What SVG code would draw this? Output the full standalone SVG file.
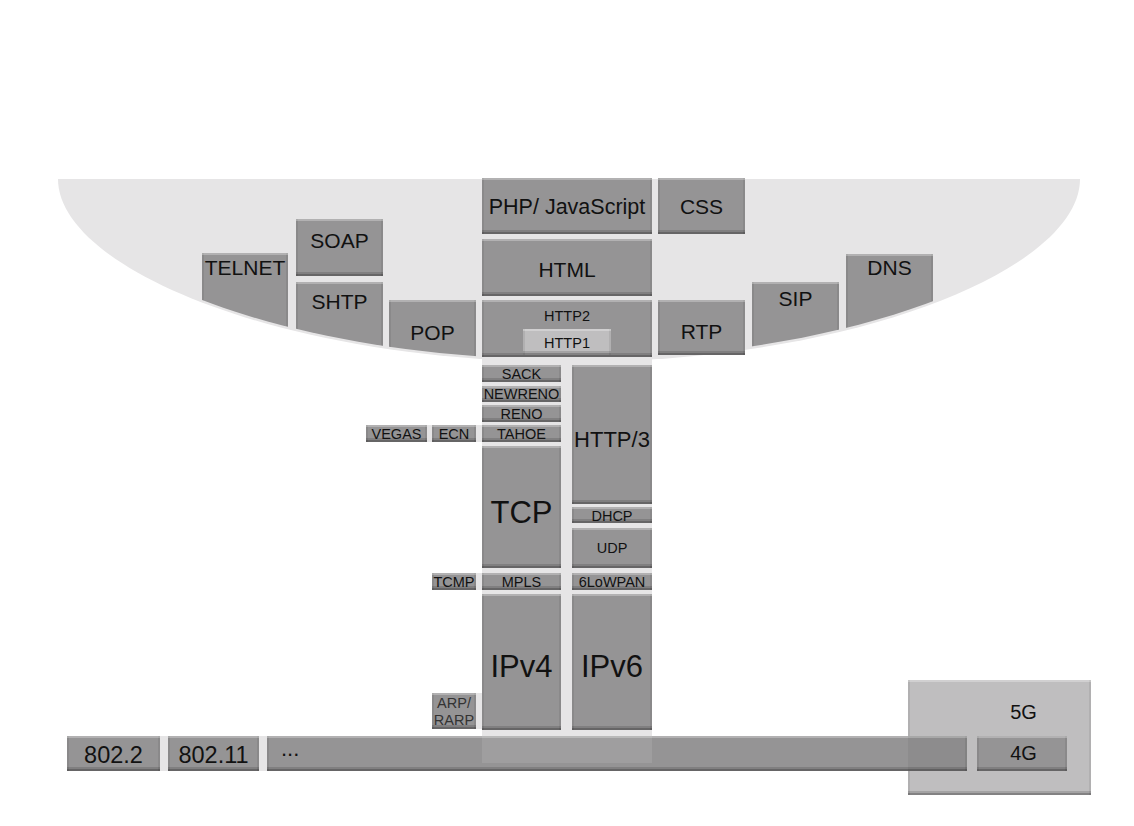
<svg xmlns="http://www.w3.org/2000/svg" width="1134" height="826" viewBox="0 0 1134 826">
<defs>
<style>
text{font-family:"Liberation Sans",Arial,Helvetica,sans-serif;fill:#111;text-anchor:middle}
.b{fill:#959495;filter:url(#bev)}
.lt{fill:#bfbebf;filter:url(#bev)}
.bg{fill:#e6e5e6}
.f21{font-size:21px}
.f14{font-size:14.5px}
.f22{font-size:22px}
.f31{font-size:31px}
.f24{font-size:23.5px}
.f20{font-size:20px}
</style>
<filter id="bev" x="0" y="0" width="1" height="1" color-interpolation-filters="sRGB">
<feOffset in="SourceAlpha" dy="-4" result="u4"/>
<feComposite in="SourceAlpha" in2="u4" operator="out" result="b4"/>
<feFlood flood-color="#000" flood-opacity="0.14"/>
<feComposite in2="b4" operator="in" result="b4c"/>
<feOffset in="SourceAlpha" dy="-2" result="u2"/>
<feComposite in="SourceAlpha" in2="u2" operator="out" result="b2"/>
<feFlood flood-color="#000" flood-opacity="0.2"/>
<feComposite in2="b2" operator="in" result="b2c"/>
<feOffset in="SourceAlpha" dy="2" result="d2"/>
<feComposite in="SourceAlpha" in2="d2" operator="out" result="t2"/>
<feFlood flood-color="#fff" flood-opacity="0.28"/>
<feComposite in2="t2" operator="in" result="t2c"/>
<feOffset in="SourceAlpha" dx="2" result="r2"/>
<feComposite in="SourceAlpha" in2="r2" operator="out" result="l2"/>
<feOffset in="SourceAlpha" dx="-2" result="l2s"/>
<feComposite in="SourceAlpha" in2="l2s" operator="out" result="rr2"/>
<feMerge result="sides"><feMergeNode in="l2"/><feMergeNode in="rr2"/></feMerge>
<feFlood flood-color="#000" flood-opacity="0.07"/>
<feComposite in2="sides" operator="in" result="sc"/>
<feMerge><feMergeNode in="SourceGraphic"/><feMergeNode in="sc"/><feMergeNode in="t2c"/><feMergeNode in="b4c"/><feMergeNode in="b2c"/></feMerge>
</filter>
<clipPath id="bowlClip"><path transform="translate(0,-2.5)" d="M58,179 H1080 C1080,269 854,362 569,362 C284,362 58,269 58,179 Z"/></clipPath>
</defs>

<g id="background">
<path class="bg" d="M58,179 H1080 C1080,269 854,362 569,362 C284,362 58,269 58,179 Z"/>
<rect class="bg" x="482" y="350" width="170" height="413"/>
<rect class="bg" x="366" y="425" width="116" height="17"/>
<rect class="bg" x="432" y="573" width="50" height="17"/>
<rect class="bg" x="432" y="693" width="50" height="36"/>
<rect class="bg" x="160" y="736" width="107" height="35"/>
</g>

<g id="connectors"></g>

<g id="n-telnet"><rect class="b" x="202" y="253" width="86" height="110" clip-path="url(#bowlClip)"/><text class="f21" x="245" y="274.5">TELNET</text></g>
<g id="n-soap"><rect class="b" x="296" y="219" width="87" height="57"/><text class="f21" x="339.5" y="247.5">SOAP</text></g>
<g id="n-shtp"><rect class="b" x="296" y="282" width="87" height="80" clip-path="url(#bowlClip)"/><text class="f21" x="339.5" y="308.5">SHTP</text></g>
<g id="n-pop"><rect class="b" x="389" y="300" width="87" height="62" clip-path="url(#bowlClip)"/><text class="f21" x="432.5" y="339.5">POP</text></g>
<g id="n-php"><rect class="b" x="482" y="178" width="170" height="56"/><text class="f21" x="567" y="213.5" style="font-size:21.5px">PHP/ JavaScript</text></g>
<g id="n-css"><rect class="b" x="658" y="178" width="87" height="56"/><text class="f21" x="701.5" y="213.5">CSS</text></g>
<g id="n-html"><rect class="b" x="482" y="239" width="170" height="57"/><text class="f21" x="567" y="276.5">HTML</text></g>
<g id="n-http2"><rect class="b" x="482" y="300" width="170" height="57"/><text class="f14" x="567" y="321">HTTP2</text></g>
<g id="n-http1"><rect class="lt" x="523" y="329" width="88" height="26"/><text class="f14" x="567" y="348">HTTP1</text></g>
<g id="n-rtp"><rect class="b" x="658" y="300" width="87" height="55"/><text class="f21" x="701.5" y="338.5">RTP</text></g>
<g id="n-sip"><rect class="b" x="752" y="282" width="87" height="80" clip-path="url(#bowlClip)"/><text class="f21" x="795.5" y="305.5">SIP</text></g>
<g id="n-dns"><rect class="b" x="846" y="254" width="87" height="100" clip-path="url(#bowlClip)"/><text class="f21" x="889.5" y="274.5">DNS</text></g>

<g id="n-sack"><rect class="b" x="482" y="365" width="79" height="17"/><text class="f14" x="521.5" y="378.5">SACK</text></g>
<g id="n-newreno"><rect class="b" x="482" y="386" width="79" height="16"/><text class="f14" x="521.5" y="399">NEWRENO</text></g>
<g id="n-reno"><rect class="b" x="482" y="405" width="79" height="17"/><text class="f14" x="521.5" y="419">RENO</text></g>
<g id="n-tahoe"><rect class="b" x="482" y="425" width="79" height="17"/><text class="f14" x="521.5" y="439">TAHOE</text></g>
<g id="n-vegas"><rect class="b" x="366" y="425" width="61" height="17"/><text class="f14" x="396.5" y="439">VEGAS</text></g>
<g id="n-ecn"><rect class="b" x="432" y="425" width="44" height="17"/><text class="f14" x="454" y="439">ECN</text></g>
<g id="n-tcp"><rect class="b" x="482" y="446" width="79" height="122"/><text class="f31" x="521.5" y="523">TCP</text></g>
<g id="n-http3"><rect class="b" x="572" y="365" width="80" height="139"/><text class="f22" x="612" y="447">HTTP/3</text></g>
<g id="n-dhcp"><rect class="b" x="572" y="507" width="80" height="16"/><text class="f14" x="612" y="521">DHCP</text></g>
<g id="n-udp"><rect class="b" x="572" y="528" width="80" height="40"/><text class="f14" x="612" y="553">UDP</text></g>
<g id="n-tcmp"><rect class="b" x="432" y="573" width="44" height="17"/><text class="f14" x="454" y="587">TCMP</text></g>
<g id="n-mpls"><rect class="b" x="482" y="573" width="79" height="17"/><text class="f14" x="521.5" y="587">MPLS</text></g>
<g id="n-6lowpan"><rect class="b" x="572" y="573" width="80" height="17"/><text class="f14" x="612" y="587">6LoWPAN</text></g>
<g id="n-ipv4"><rect class="b" x="482" y="594" width="79" height="136"/><text class="f31" x="521.5" y="677">IPv4</text></g>
<g id="n-ipv6"><rect class="b" x="572" y="594" width="80" height="136"/><text class="f31" x="612" y="677">IPv6</text></g>
<g id="n-arp"><rect class="b" x="432" y="693" width="44" height="36"/><text class="f14" x="454" y="708" style="fill:#333">ARP/</text><text class="f14" x="454" y="725" style="fill:#333">RARP</text></g>

<g id="n-5g"><rect class="lt" x="908" y="680" width="183" height="115"/><text class="f20" x="1023.5" y="719">5G</text></g>
<g id="n-8022"><rect class="b" x="67" y="736" width="93" height="35"/><text class="f24" x="113.5" y="762.5">802.2</text></g>
<g id="n-80211"><rect class="b" x="168" y="736" width="91" height="35"/><text class="f24" x="213.5" y="762.5">802.11</text></g>
<g id="n-more"><rect class="b" x="267" y="736" width="700" height="35"/><rect x="482" y="736" width="170" height="27" fill="#fff" opacity="0.1"/><rect x="908" y="736" width="59" height="35" fill="#000" opacity="0.05"/><text x="281" y="756" style="font-size:22px;text-anchor:start">...</text></g>
<g id="n-4g"><rect class="b" x="977" y="736" width="90" height="35"/><text class="f20" x="1023.5" y="759.5">4G</text></g>
</svg>
